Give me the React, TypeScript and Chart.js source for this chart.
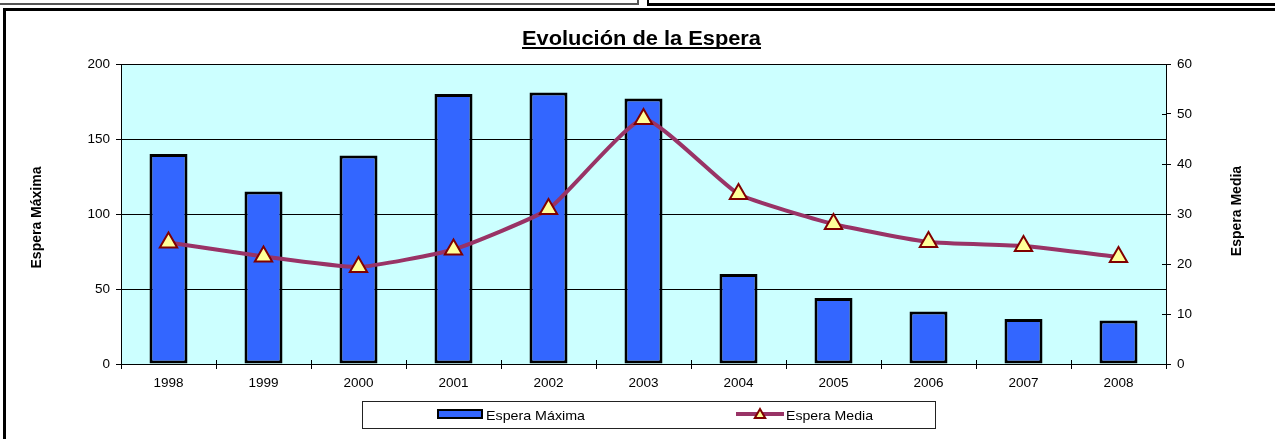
import React, { useEffect, useRef } from 'react';
import { Chart, registerables } from 'chart.js';

Chart.register(...registerables);

const categories = ['1998', '1999', '2000', '2001', '2002', '2003', '2004', '2005', '2006', '2007', '2008'];
const esperaMaxima = [140, 115, 139, 180, 181, 177, 60, 44, 35, 30, 29];
const esperaMedia = [24.3, 21.5, 19.4, 22.9, 31, 49, 34, 28, 24.4, 23.6, 21.4];
const leftTickStep = 50;
const leftMax = 200;
const rightTickStep = 10;
const rightMax = 60;
const titleText = 'Evolución de la Espera';
const leftTitle = 'Espera Máxima';
const rightTitle = 'Espera Media';
const seriesLabels = ['Espera Máxima', 'Espera Media'];

const FONT = '"Liberation Sans", Arial, Helvetica, sans-serif';
const BAR_COLOR = '#3366FF';
const LINE_COLOR = '#993366';
const MARK_FILL = '#FFFF99';
const MARK_BORDER = '#800000';

function drawTriangle(ctx: CanvasRenderingContext2D, cx: number, cy: number, r: number) {
  ctx.beginPath();
  ctx.moveTo(cx, cy - r);
  ctx.lineTo(cx + r * 0.866, cy + r / 2);
  ctx.lineTo(cx - r * 0.866, cy + r / 2);
  ctx.closePath();
}

function stretchedText(ctx: CanvasRenderingContext2D, text: string, x: number, y: number, sx: number) {
  ctx.save();
  ctx.translate(x, y);
  ctx.scale(sx, 1);
  ctx.fillText(text, 0, 0);
  ctx.restore();
}

const decorPlugin = {
  id: 'decor',
  beforeDraw(chart: any) {
    const { ctx, chartArea: a } = chart;
    ctx.save();
    ctx.fillStyle = '#CCFFFF';
    ctx.fillRect(a.left, a.top, a.right - a.left, a.bottom - a.top);
    ctx.restore();
  },
  afterDraw(chart: any) {
    const { ctx, chartArea: a, scales } = chart;
    ctx.save();
    // inner halves of tick marks
    ctx.strokeStyle = '#000';
    ctx.lineWidth = 1;
    const xs = scales.x;
    for (let i = 0; i <= categories.length; i++) {
      const px = Math.round(xs.getPixelForValue(i - 0.5)) + 0.5;
      ctx.beginPath();
      ctx.moveTo(px, a.bottom);
      ctx.lineTo(px, a.bottom - 4);
      ctx.stroke();
    }
    const y1 = scales.y1;
    for (let v = 0; v <= rightMax; v += rightTickStep) {
      const py = Math.round(y1.getPixelForValue(v)) + 0.5;
      ctx.beginPath();
      ctx.moveTo(a.right, py);
      ctx.lineTo(a.right - 4, py);
      ctx.stroke();
    }

    // title
    ctx.fillStyle = '#000';
    ctx.font = `bold 20px ${FONT}`;
    ctx.textBaseline = 'alphabetic';
    ctx.textAlign = 'left';
    const tw = ctx.measureText(titleText).width;
    const targetW = 239;
    const sx = targetW / tw;
    const tx = 641.5 - targetW / 2;
    stretchedText(ctx, titleText, tx, 45, sx);
    ctx.fillRect(tx, 47, targetW, 2);

    // axis titles
    ctx.font = `bold 14px ${FONT}`;
    ctx.textAlign = 'center';
    ctx.save();
    ctx.translate(41, 217.5);
    ctx.rotate(-Math.PI / 2);
    ctx.fillText(leftTitle, 0, 0);
    ctx.restore();
    ctx.save();
    ctx.translate(1240.5, 211);
    ctx.rotate(-Math.PI / 2);
    ctx.fillText(rightTitle, 0, 0);
    ctx.restore();

    // legend
    ctx.strokeStyle = '#222';
    ctx.lineWidth = 1;
    ctx.strokeRect(362.5, 401.5, 573, 27);
    // bar swatch
    ctx.fillStyle = '#000';
    ctx.fillRect(437, 409, 46, 10);
    ctx.fillStyle = BAR_COLOR;
    ctx.fillRect(439, 411, 42, 6);
    // line swatch
    ctx.strokeStyle = LINE_COLOR;
    ctx.lineWidth = 4;
    ctx.beginPath();
    ctx.moveTo(736, 414);
    ctx.lineTo(784, 414);
    ctx.stroke();
    drawTriangle(ctx, 760, 415, 6);
    ctx.fillStyle = MARK_FILL;
    ctx.fill();
    ctx.strokeStyle = MARK_BORDER;
    ctx.lineWidth = 2;
    ctx.stroke();
    // legend text
    ctx.fillStyle = '#000';
    ctx.font = `13px ${FONT}`;
    ctx.textAlign = 'left';
    ctx.textBaseline = 'alphabetic';
    const w1 = ctx.measureText(seriesLabels[0]).width;
    stretchedText(ctx, seriesLabels[0], 486, 419.5, 99 / w1);
    const w2 = ctx.measureText(seriesLabels[1]).width;
    stretchedText(ctx, seriesLabels[1], 786, 419.5, 87 / w2);
    ctx.restore();
  },
};

export default function App() {
  const canvasRef = useRef<HTMLCanvasElement | null>(null);

  useEffect(() => {
    const canvas = canvasRef.current;
    if (!canvas) return;
    const tickFont = { family: FONT, size: 13.5 };
    const chart = new Chart(canvas, {
      type: 'bar',
      data: {
        labels: categories,
        datasets: [
          {
            type: 'line',
            label: seriesLabels[1],
            data: esperaMedia,
            yAxisID: 'y1',
            borderColor: LINE_COLOR,
            borderWidth: 4,
            tension: 0.15,
            pointStyle: 'triangle',
            pointRadius: 10,
            pointBackgroundColor: MARK_FILL,
            pointBorderColor: MARK_BORDER,
            pointBorderWidth: 2,
            order: 0,
            clip: false,
          } as any,
          {
            type: 'bar',
            label: seriesLabels[0],
            data: esperaMaxima,
            yAxisID: 'y',
            backgroundColor: BAR_COLOR,
            borderColor: '#000',
            borderWidth: 3,
            borderSkipped: false,
            barPercentage: 0.4,
            categoryPercentage: 1,
            order: 1,
          } as any,
        ],
      },
      options: {
        responsive: true,
        maintainAspectRatio: false,
        animation: false,
        layout: { padding: { top: 64, left: 0, right: 0, bottom: 0 } },
        plugins: {
          legend: { display: false },
          title: { display: false },
          tooltip: { enabled: false },
        },
        scales: {
          x: {
            offset: true,
            grid: {
              offset: true,
              drawOnChartArea: false,
              drawTicks: true,
              tickLength: 5,
              color: '#000',
            },
            border: { display: true, color: '#000', width: 1 },
            ticks: { font: tickFont, color: '#000', padding: 6, maxRotation: 0, autoSkip: false },
            afterFit: (s: any) => {
              s.height = 75;
            },
          },
          y: {
            position: 'left',
            min: 0,
            max: leftMax,
            ticks: { stepSize: leftTickStep, font: tickFont, color: '#000', padding: 6 },
            grid: { color: '#000', tickLength: 5, drawTicks: true },
            border: { display: true, color: '#000', width: 1 },
            afterFit: (s: any) => {
              s.width = 121;
            },
          },
          y1: {
            position: 'right',
            min: 0,
            max: rightMax,
            ticks: { stepSize: rightTickStep, font: tickFont, color: '#000', padding: 6 },
            grid: { drawOnChartArea: false, color: '#000', tickLength: 5, drawTicks: true },
            border: { display: true, color: '#000', width: 1 },
            afterFit: (s: any) => {
              s.width = 109;
            },
          },
        },
      } as any,
      plugins: [decorPlugin],
    });
    return () => chart.destroy();
  }, []);

  return (
    <div
      style={{
        position: 'fixed',
        left: 0,
        top: 0,
        width: 1275,
        height: 439,
        overflow: 'hidden',
        background: '#fff',
      }}
    >
      <div
        style={{
          position: 'absolute',
          left: -10,
          top: -20,
          width: 649,
          height: 25,
          boxSizing: 'border-box',
          border: '2px solid #555',
        }}
      />
      <div
        style={{
          position: 'absolute',
          left: 647,
          top: -20,
          width: 700,
          height: 26,
          boxSizing: 'border-box',
          borderLeft: '2px solid #000',
          borderBottom: '3px solid #000',
        }}
      />
      <div
        style={{
          position: 'absolute',
          left: 3,
          top: 8,
          width: 1400,
          height: 600,
          boxSizing: 'border-box',
          border: '3px solid #000',
        }}
      />
      <div style={{ position: 'absolute', left: 0, top: 0, width: 1275, height: 439 }}>
        <canvas ref={canvasRef} />
      </div>
    </div>
  );
}
